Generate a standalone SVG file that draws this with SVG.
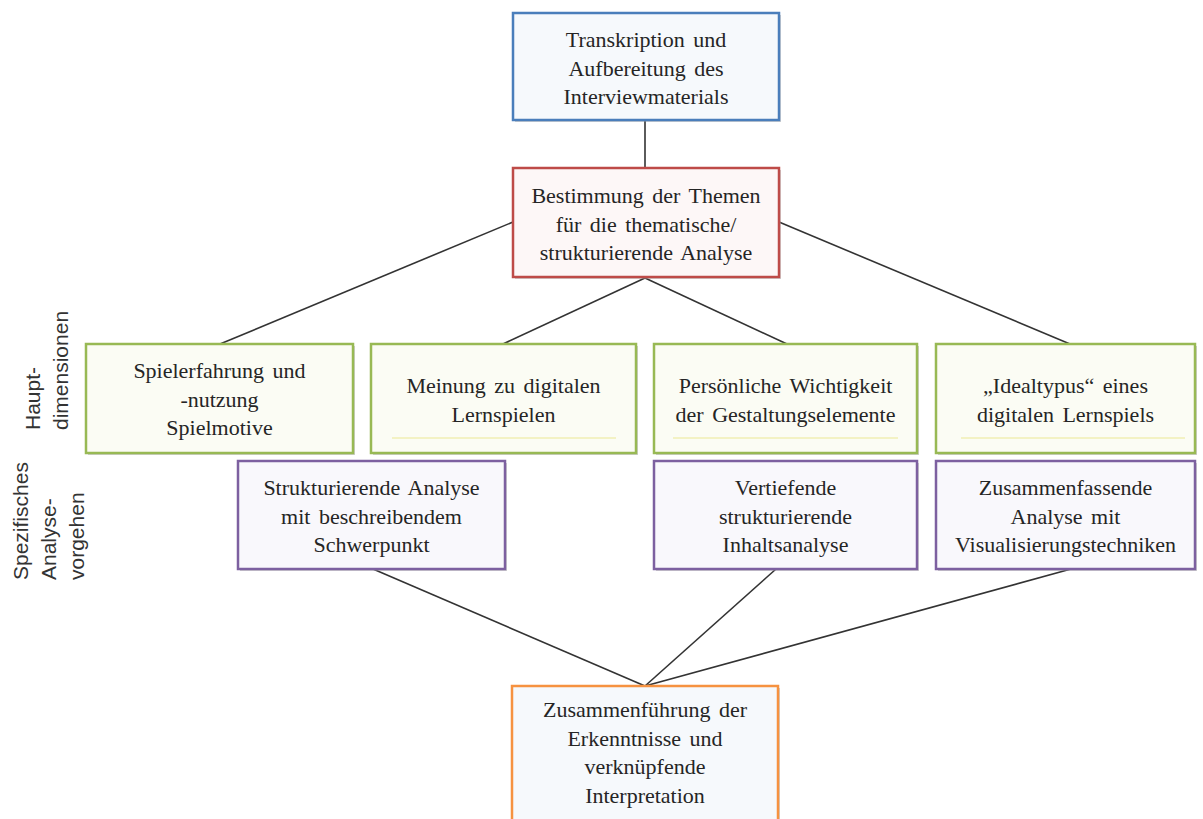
<svg xmlns="http://www.w3.org/2000/svg" width="1203" height="819" viewBox="0 0 1203 819">
  <style>
    .box { stroke-width: 2.5; }
    .shadow { fill: #9a9a9a; opacity: 0.45; }
    .blue { stroke: #4a7ebb; fill: #f6f9fc; }
    .red { stroke: #be4b48; fill: #fdf7f7; }
    .green { stroke: #98b954; fill: #fbfcf4; }
    .purple { stroke: #7d60a0; fill: #f9f8fc; }
    .orange { stroke: #f69240; fill: #f6f9fc; }
    .t { font-family: "Liberation Serif", "Times New Roman", serif; font-size: 22px; fill: #252525; text-anchor: middle; word-spacing: 3px; }
    .side { font-family: "Liberation Sans", Arial, sans-serif; font-size: 21px; fill: #333333; }
    .hl { stroke: #f3f2c4; stroke-width: 2; }
    .conn line { stroke: #333333; stroke-width: 1.6; fill: none; }
  </style>

  <rect width="1203" height="819" fill="#ffffff"/>

  <!-- connectors -->
  <g id="connectors" class="conn">
    <line x1="645" y1="120" x2="645" y2="168"/>
    <line x1="513" y1="222" x2="220" y2="344"/>
    <line x1="779" y1="222" x2="1070" y2="344"/>
    <line x1="645" y1="278" x2="503" y2="344"/>
    <line x1="645" y1="278" x2="787" y2="344"/>
    <line x1="373" y1="569" x2="645" y2="686"/>
    <line x1="776" y1="569" x2="645" y2="686"/>
    <line x1="1071" y1="569" x2="645" y2="686"/>
  </g>

  <!-- side labels -->
  <g id="label-hauptdimensionen" class="side">
    <text transform="translate(40,430) rotate(-90)">Haupt-</text>
    <text transform="translate(68,430) rotate(-90)">dimensionen</text>
  </g>
  <g id="label-analysevorgehen" class="side">
    <text transform="translate(28,580) rotate(-90)">Spezifisches</text>
    <text transform="translate(56,580) rotate(-90)">Analyse-</text>
    <text transform="translate(84,580) rotate(-90)">vorgehen</text>
  </g>

  <!-- top -->
  <g id="node-transkription">
    <rect class="shadow" x="515" y="15" width="266" height="107"/>
    <rect class="box blue" x="513" y="13" width="266" height="107"/>
    <text class="t" x="646" y="47">Transkription und</text>
    <text class="t" x="646" y="75.5">Aufbereitung des</text>
    <text class="t" x="646" y="104">Interviewmaterials</text>
  </g>

  <g id="node-themen">
    <rect class="shadow" x="515" y="170" width="266" height="109"/>
    <rect class="box red" x="513" y="168" width="266" height="109"/>
    <text class="t" x="646" y="203">Bestimmung der Themen</text>
    <text class="t" x="646" y="231.5">für die thematische/</text>
    <text class="t" x="646" y="260">strukturierende Analyse</text>
  </g>

  <!-- main dimensions -->
  <g id="node-spielerfahrung">
    <rect class="shadow" x="88" y="346" width="267" height="109"/>
    <rect class="box green" x="86" y="344" width="267" height="109"/>
    <text class="t" x="219.5" y="378">Spielerfahrung und</text>
    <text class="t" x="219.5" y="406.5">-nutzung</text>
    <text class="t" x="219.5" y="435">Spielmotive</text>
  </g>

  <g id="node-meinung">
    <rect class="shadow" x="373" y="346" width="265" height="109"/>
    <rect class="box green" x="371" y="344" width="265" height="109"/>
    <line class="hl" x1="392" y1="438" x2="616" y2="438"/>
    <text class="t" x="503.5" y="393">Meinung zu digitalen</text>
    <text class="t" x="503.5" y="422">Lernspielen</text>
  </g>

  <g id="node-wichtigkeit">
    <rect class="shadow" x="656" y="346" width="263" height="109"/>
    <rect class="box green" x="654" y="344" width="263" height="109"/>
    <line class="hl" x1="673" y1="438" x2="898" y2="438"/>
    <text class="t" x="785.5" y="393">Persönliche Wichtigkeit</text>
    <text class="t" x="785.5" y="422">der Gestaltungselemente</text>
  </g>

  <g id="node-idealtypus">
    <rect class="shadow" x="938" y="346" width="259" height="109"/>
    <rect class="box green" x="936" y="344" width="259" height="109"/>
    <line class="hl" x1="961" y1="438" x2="1185" y2="438"/>
    <text class="t" x="1065.5" y="393">„Idealtypus“ eines</text>
    <text class="t" x="1065.5" y="422">digitalen Lernspiels</text>
  </g>

  <!-- analysis procedures -->
  <g id="node-strukturierend">
    <rect class="shadow" x="240" y="463" width="267" height="108"/>
    <rect class="box purple" x="238" y="461" width="267" height="108"/>
    <text class="t" x="371.5" y="495">Strukturierende Analyse</text>
    <text class="t" x="371.5" y="523.5">mit beschreibendem</text>
    <text class="t" x="371.5" y="552">Schwerpunkt</text>
  </g>

  <g id="node-vertiefend">
    <rect class="shadow" x="656" y="463" width="263" height="108"/>
    <rect class="box purple" x="654" y="461" width="263" height="108"/>
    <text class="t" x="785.5" y="495">Vertiefende</text>
    <text class="t" x="785.5" y="523.5">strukturierende</text>
    <text class="t" x="785.5" y="552">Inhaltsanalyse</text>
  </g>

  <g id="node-zusammenfassend">
    <rect class="shadow" x="938" y="463" width="259" height="108"/>
    <rect class="box purple" x="936" y="461" width="259" height="108"/>
    <text class="t" x="1065.5" y="495">Zusammenfassende</text>
    <text class="t" x="1065.5" y="523.5">Analyse mit</text>
    <text class="t" x="1065.5" y="552">Visualisierungstechniken</text>
  </g>

  <!-- synthesis -->
  <g id="node-zusammenfuehrung">
    <rect class="shadow" x="514" y="688" width="266" height="150"/>
    <rect class="box orange" x="512" y="686" width="266" height="150"/>
    <text class="t" x="645" y="717">Zusammenführung der</text>
    <text class="t" x="645" y="745.5">Erkenntnisse und</text>
    <text class="t" x="645" y="774">verknüpfende</text>
    <text class="t" x="645" y="802.5">Interpretation</text>
  </g>
</svg>
